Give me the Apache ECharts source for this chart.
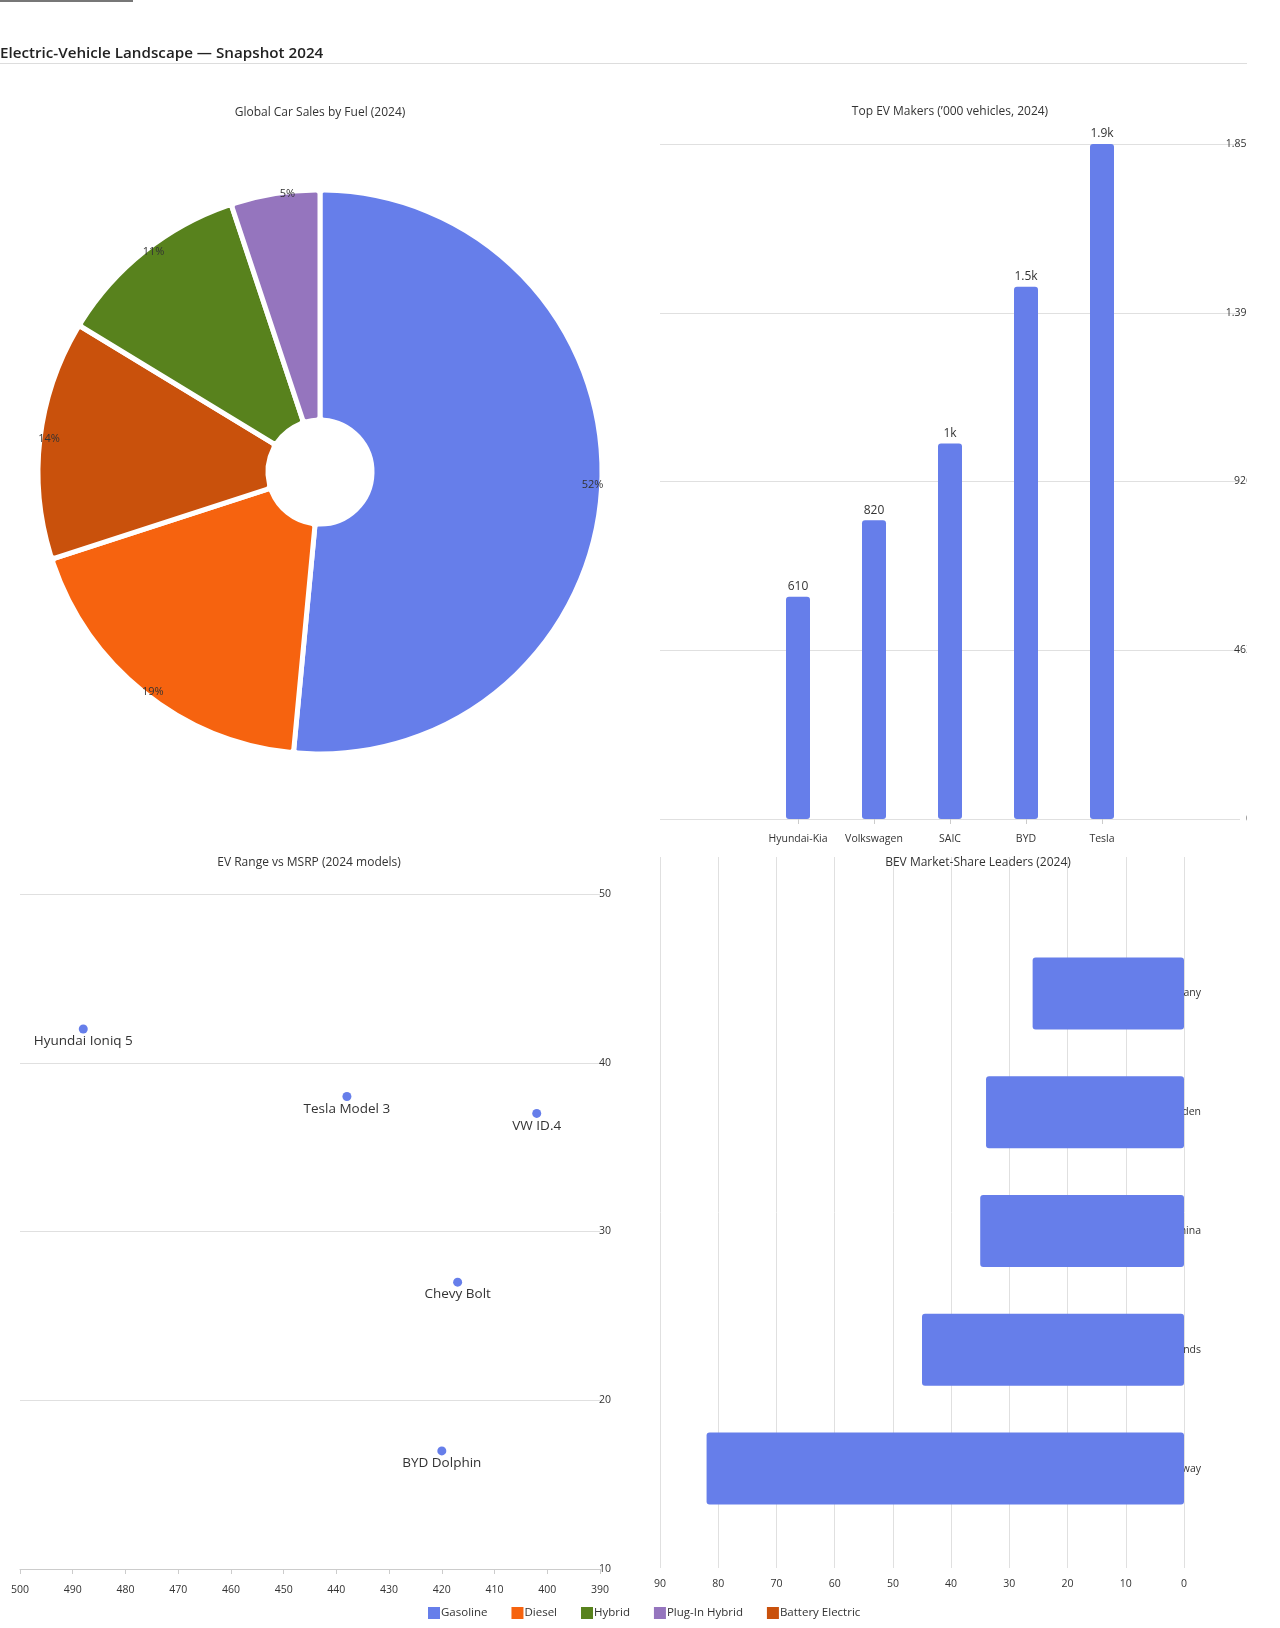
<!DOCTYPE html>
<html>
<head>
<meta charset="utf-8">
<title>Electric-Vehicle Landscape — Snapshot 2024</title>
<script src="https://cdn.jsdelivr.net/npm/echarts@6/dist/echarts.min.js"></script>
<style>
  html, body { margin: 0; padding: 0; background: #fff; }
  body { width: 1280px; height: 1628px; position: relative; overflow: hidden; font-family: 'Open Sans', sans-serif; }
  #topbar { position: absolute; left: 0; top: 0; width: 133px; height: 2px; background: #777; }
  #header {
    position: absolute; left: 0; top: 42px; width: 1247px;
    font-size: 15.2px; font-weight: 600; line-height: 20px; color: #222;
    padding-bottom: 1px; border-bottom: 1px solid #ddd; z-index: 2;
  }
  #chart { position: absolute; left: 0; top: 0; width: 1247px; height: 1628px; }
</style>
</head>
<body>
<div id="topbar"></div>
<div id="header">Electric-Vehicle Landscape — Snapshot 2024</div>
<div id="chart"></div>
<script>
// ============================================================
// Data
// ============================================================

// pie slices, clockwise from 12 o'clock (share of sales, %)
var FUEL_NAMES = ['Gasoline', 'Diesel', 'Battery Electric', 'Hybrid', 'Plug-In Hybrid'];
var FUEL_SHARES = [51.5, 18.5, 13.7, 11.2, 5.1];
var LEGEND_ORDER = ['Gasoline', 'Diesel', 'Hybrid', 'Plug-In Hybrid', 'Battery Electric'];

var MAKERS = ['Hyundai-Kia', 'Volkswagen', 'SAIC', 'BYD', 'Tesla'];
var MAKER_SALES = [610, 820, 1030, 1460, 1852];

var MODELS = ['Hyundai Ioniq 5', 'Tesla Model 3', 'VW ID.4', 'Chevy Bolt', 'BYD Dolphin'];
var MODEL_RANGE = [488, 438, 402, 417, 420];
var MODEL_MSRP = [42, 38, 37, 27, 17];

// bottom to top
var COUNTRIES = ['Norway', 'Netherlands', 'China', 'Sweden', 'Germany'];
var BEV_SHARE = [82, 45, 35, 34, 26];

// ============================================================
// Styles
// ============================================================

var FONT = "'Open Sans', sans-serif";
var TEXT_COLOR = '#333';
var GRID_COLOR = '#e0e0e0';
var BAR_COLOR = '#667eea';
var FUEL_COLORS = {
  'Gasoline': '#667eea',
  'Diesel': '#f6630f',
  'Hybrid': '#58821d',
  'Plug-In Hybrid': '#9575be',
  'Battery Electric': '#c9510c'
};

function kFormat(v, digits) {
  if (v >= 1000) return +(v / 1000).toFixed(digits) + 'k';
  return String(Math.round(v));
}

function subTitle(text, cx, cy) {
  return {
    text: text,
    left: cx,
    top: cy - 4,
    textAlign: 'center',
    padding: 0,
    textStyle: { fontSize: 12, fontWeight: 'normal', color: TEXT_COLOR, fontFamily: FONT }
  };
}

function gridBox(left, top, width, height) {
  // keep the grid exactly where it is put, labels may run past the canvas
  return { left: left, top: top, width: width, height: height, outerBoundsMode: 'none', containLabel: false };
}

var makerMax = Math.max.apply(null, MAKER_SALES);
var makerStep = makerMax / 4;

var chart = echarts.init(document.getElementById('chart'), null, { renderer: 'canvas' });

chart.setOption({
  animation: false,
  textStyle: { fontFamily: FONT },
  title: [
    subTitle('Global Car Sales by Fuel (2024)', 320, 111),
    subTitle('Top EV Makers (\u2019000 vehicles, 2024)', 950, 110),
    subTitle('EV Range vs MSRP (2024 models)', 309, 861),
    subTitle('BEV Market-Share Leaders (2024)', 978, 861)
  ],
  legend: {
    data: LEGEND_ORDER,
    left: 426,
    top: 1605,
    padding: 0,
    icon: 'rect',
    itemWidth: 14,
    itemHeight: 14,
    itemGap: 22,
    textStyle: { fontSize: 11.5, color: TEXT_COLOR, fontFamily: FONT, padding: [0, 0, 0, -5] }
  },
  grid: [
    // 0: maker chart frame (split lines + value labels)
    gridBox(660, 144, 580, 675),
    // 1: maker bars
    gridBox(760, 144, 380, 675),
    // 2: scatter
    gridBox(20, 894, 580, 675),
    // 3: share chart frame
    gridBox(660, 857, 524, 711),
    // 4: share bars
    gridBox(660, 934, 524, 594)
  ],
  xAxis: [
    { gridIndex: 0, type: 'value', min: 0, max: 1, show: false },
    {
      gridIndex: 1, type: 'category', data: MAKERS,
      axisLine: { show: false },
      axisTick: { show: true, alignWithLabel: true, length: 5, lineStyle: { color: '#ccc' } },
      axisLabel: { interval: 0, fontSize: 10.5, color: TEXT_COLOR, margin: 15 }
    },
    {
      gridIndex: 2, type: 'value', min: 390, max: 500, interval: 10, inverse: true,
      axisLine: { show: true, lineStyle: { color: '#ccc' } },
      axisTick: { show: true, length: 5, lineStyle: { color: '#ccc' } },
      axisLabel: { fontSize: 10.5, color: TEXT_COLOR, margin: 16 },
      splitLine: { show: false }
    },
    {
      gridIndex: 3, type: 'value', min: 0, max: 90, interval: 10, inverse: true,
      axisLine: { show: false },
      axisTick: { show: false },
      axisLabel: { fontSize: 10.5, color: TEXT_COLOR, margin: 11 },
      splitLine: { show: true, lineStyle: { color: GRID_COLOR } }
    },
    { gridIndex: 4, type: 'value', min: 0, max: 90, inverse: true, show: false }
  ],
  yAxis: [
    {
      gridIndex: 0, type: 'value', min: 0, max: makerMax, interval: makerStep, position: 'right',
      axisLine: { show: false },
      axisTick: { show: false },
      axisLabel: {
        fontSize: 10.5, color: TEXT_COLOR, align: 'right', margin: 12,
        formatter: function(v) { return kFormat(v, 2); }
      },
      splitLine: { show: true, lineStyle: { color: GRID_COLOR } }
    },
    { gridIndex: 1, type: 'value', min: 0, max: makerMax, show: false },
    {
      gridIndex: 2, type: 'value', min: 10, max: 50, interval: 10, position: 'right',
      axisLine: { show: false },
      axisTick: { show: false },
      axisLabel: { fontSize: 10.5, color: TEXT_COLOR, align: 'right', margin: 11 },
      splitLine: { show: true, lineStyle: { color: GRID_COLOR } }
    },
    { gridIndex: 3, type: 'value', min: 0, max: 1, show: false },
    {
      gridIndex: 4, type: 'category', data: COUNTRIES, position: 'right',
      axisLine: { show: false },
      axisTick: { show: false },
      axisLabel: { fontSize: 10.5, color: TEXT_COLOR, align: 'right', margin: 17 }
    }
  ],
  series: [
    {
      name: 'Fuel',
      type: 'pie',
      center: [320, 472],
      radius: [52, 282],
      startAngle: 90,
      clockwise: true,
      avoidLabelOverlap: false,
      itemStyle: { borderColor: '#fff', borderWidth: 5, borderRadius: 4 },
      label: {
        show: true,
        position: 'outside',
        formatter: function(p) { return Math.round(p.value) + '%'; },
        fontSize: 11,
        color: TEXT_COLOR,
        distanceToLabelLine: -20
      },
      labelLine: { show: false, length: 0, length2: 0 },
      emphasis: { scale: false },
      data: FUEL_NAMES.map(function(name, i) {
        return { name: name, value: FUEL_SHARES[i], itemStyle: { color: FUEL_COLORS[name] } };
      })
    },
    {
      name: 'Makers',
      type: 'bar',
      xAxisIndex: 1,
      yAxisIndex: 1,
      barWidth: 24,
      itemStyle: { color: BAR_COLOR, borderRadius: 3 },
      label: {
        show: true,
        position: 'top',
        distance: 4,
        fontSize: 12,
        color: TEXT_COLOR,
        formatter: function(p) { return kFormat(p.value, 1); }
      },
      data: MAKER_SALES
    },
    {
      name: 'Models',
      type: 'scatter',
      xAxisIndex: 2,
      yAxisIndex: 2,
      symbolSize: 9,
      itemStyle: { color: BAR_COLOR, opacity: 1 },
      label: {
        show: true,
        position: 'bottom',
        distance: 1,
        fontSize: 13.5,
        color: TEXT_COLOR,
        formatter: function(p) { return p.data[2]; }
      },
      data: MODELS.map(function(m, i) { return [MODEL_RANGE[i], MODEL_MSRP[i], m]; })
    },
    {
      name: 'BEV share',
      type: 'bar',
      xAxisIndex: 4,
      yAxisIndex: 4,
      barWidth: 72,
      itemStyle: { color: BAR_COLOR, borderRadius: 3 },
      data: BEV_SHARE
    }
  ]
});
</script>
</body>
</html>
